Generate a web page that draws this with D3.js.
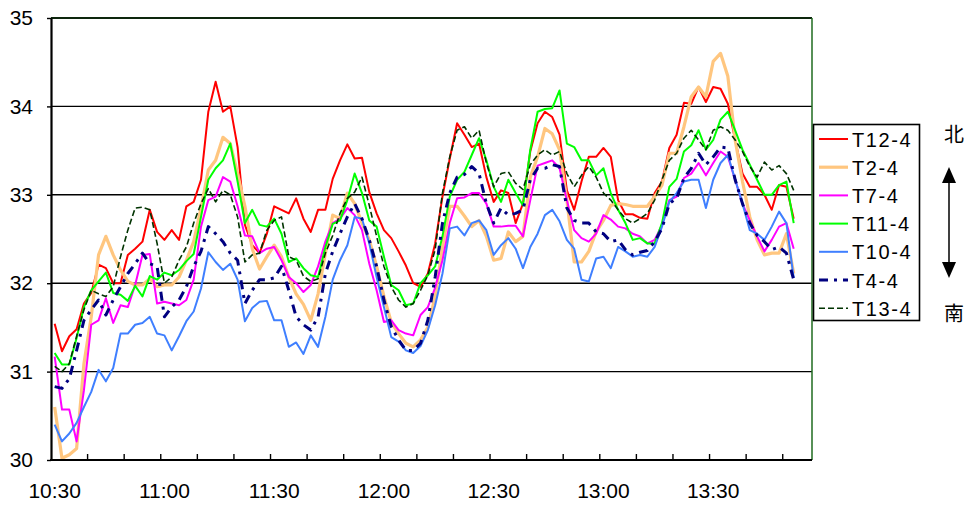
<!DOCTYPE html>
<html>
<head>
<meta charset="utf-8">
<script src="https://cdn.jsdelivr.net/npm/d3@7"></script>
<style>
  body { margin: 0; background: #fff; }
  text { font-family: "Liberation Sans", Arial, sans-serif; fill: #000; }
</style>
</head>
<body>
<div id="chart"></div>
<script>
// Time categories: 10:30 onwards every 2 minutes (104 slots on the axis)
const startMin = 10 * 60 + 30;
const times = d3.range(104).map(i => {
  const m = startMin + i * 2;
  return `${Math.floor(m / 60)}:${String(m % 60).padStart(2, "0")}`;
});
const tickLabels = ["10:30", "11:00", "11:30", "12:00", "12:30", "13:00", "13:30"];
const yTicks = [30, 31, 32, 33, 34, 35];

// Series values
const t12 = [31.54,31.23,31.40,31.48,31.77,31.89,32.21,32.17,32.00,32.00,
  32.32,32.39,32.47,32.83,32.58,32.49,32.60,32.49,32.87,32.92,
  33.17,33.94,34.28,33.94,34.00,33.54,32.66,32.43,32.34,32.56,
  32.87,32.83,32.79,32.96,32.73,32.58,32.83,32.83,33.18,33.39,
  33.57,33.41,33.42,33.03,32.79,32.60,32.51,32.36,32.20,32.00,
  31.96,32.11,32.45,32.98,33.41,33.81,33.68,33.54,33.58,33.20,
  32.92,33.05,33.02,32.68,32.90,33.49,33.81,33.94,33.88,33.68,
  33.05,32.83,33.15,33.43,33.43,33.53,33.43,32.94,32.78,32.78,
  32.74,32.73,33.02,33.15,33.53,33.68,34.04,34.03,34.22,34.05,
  34.22,34.20,34.03,33.62,33.24,33.09,33.09,33.00,32.83,33.11,
  33.09,32.73];

const t2 = [30.60,30.02,30.06,30.13,31.09,31.62,32.32,32.53,32.32,32.15,
  32.02,31.98,31.98,32.05,31.96,31.98,31.98,32.07,32.26,32.47,
  32.85,33.28,33.39,33.65,33.58,33.24,32.87,32.39,32.16,32.30,
  32.43,32.30,32.07,31.88,31.76,31.58,31.88,32.34,32.77,32.73,
  33.02,32.90,32.68,32.49,32.19,31.85,31.56,31.43,31.32,31.28,
  31.36,31.50,31.85,32.41,32.87,32.87,32.76,32.64,32.71,32.53,
  32.26,32.28,32.58,32.47,32.53,33.20,33.43,33.75,33.69,33.51,
  32.94,32.24,32.24,32.36,32.58,32.71,32.88,32.90,32.89,32.87,
  32.87,32.87,32.98,33.11,33.47,33.47,33.77,34.11,34.22,34.11,
  34.51,34.60,34.34,33.62,33.15,32.75,32.49,32.32,32.34,32.34,
  32.56,32.11];

const t7 = [31.17,30.57,30.57,30.21,30.79,31.53,31.58,31.83,31.55,31.75,
  31.73,31.98,32.32,32.33,31.77,31.79,31.77,31.75,31.81,32.04,
  32.64,32.94,32.98,33.20,33.15,32.87,32.54,32.53,32.34,32.39,
  32.41,32.26,32.07,32.00,31.90,31.98,32.19,32.47,32.68,32.73,
  32.85,32.77,32.60,32.22,31.92,31.56,31.58,31.47,31.43,31.41,
  31.64,31.73,31.95,32.26,32.68,32.96,32.97,33.02,33.02,32.90,
  32.64,32.64,32.65,32.65,32.53,32.94,33.33,33.36,33.39,33.30,
  32.94,32.60,32.51,32.47,32.56,32.77,32.72,32.64,32.62,32.56,
  32.53,32.45,32.49,32.66,32.94,32.98,33.19,33.24,33.36,33.22,
  33.36,33.49,33.43,33.17,32.90,32.71,32.53,32.36,32.49,32.64,
  32.68,32.39];

const t11 = [31.21,31.08,31.08,31.38,31.73,31.92,32.02,32.12,31.89,31.87,
  31.80,31.97,31.85,32.08,32.04,32.12,32.09,32.15,32.25,32.33,
  32.75,33.17,33.30,33.39,33.58,33.15,32.68,32.83,32.66,32.64,
  32.73,32.56,32.24,32.28,32.17,32.09,32.07,32.41,32.67,32.71,
  32.94,33.24,33.02,32.71,32.64,32.30,31.98,31.92,31.75,31.77,
  32.00,32.09,32.19,32.53,32.98,33.17,33.26,33.45,33.64,33.39,
  33.09,32.92,33.17,33.02,32.88,33.51,33.94,33.97,33.98,34.18,
  33.58,33.54,33.39,33.39,33.22,33.30,33.02,32.83,32.68,32.49,
  32.51,32.45,32.45,32.68,33.09,33.18,33.49,33.56,33.73,33.51,
  33.62,33.85,33.94,33.73,33.51,33.34,33.17,33.00,33.00,33.11,
  33.15,32.68];

const t10 = [30.40,30.21,30.30,30.42,30.60,30.77,31.02,30.89,31.04,31.43,
  31.43,31.53,31.55,31.62,31.43,31.41,31.24,31.40,31.57,31.68,
  31.94,32.35,32.24,32.15,32.22,32.04,31.57,31.72,31.79,31.80,
  31.58,31.58,31.28,31.33,31.20,31.41,31.28,31.62,32.04,32.26,
  32.43,32.75,32.73,32.45,32.07,31.73,31.39,31.34,31.24,31.21,
  31.29,31.47,31.75,32.11,32.62,32.64,32.54,32.68,32.71,32.60,
  32.32,32.43,32.51,32.39,32.17,32.41,32.56,32.77,32.83,32.70,
  32.49,32.39,32.04,32.02,32.28,32.30,32.17,32.41,32.36,32.30,
  32.32,32.30,32.41,32.64,32.92,33.02,33.15,33.17,33.17,32.85,
  33.17,33.36,33.45,33.17,32.90,32.60,32.56,32.49,32.64,32.81,
  32.68,32.06];

const t4 = [30.83,30.81,30.92,31.24,31.58,31.70,31.81,31.64,31.81,31.96,
  32.11,32.22,32.34,32.22,32.19,31.62,31.73,31.81,31.96,32.19,
  32.36,32.64,32.56,32.47,32.34,32.26,31.77,31.92,32.04,32.04,
  32.06,32.19,31.92,31.62,31.53,31.47,31.62,32.11,32.36,32.56,
  32.75,32.90,32.73,32.49,32.19,31.81,31.51,31.36,31.24,31.24,
  31.32,31.58,32.07,32.68,33.02,33.20,33.23,33.32,33.24,32.90,
  32.68,32.85,32.77,32.79,32.83,33.17,33.30,33.30,33.34,33.32,
  32.85,32.71,32.68,32.68,32.58,32.56,32.47,32.49,32.38,32.32,
  32.35,32.37,32.47,32.62,32.90,32.96,33.19,33.30,33.47,33.34,
  33.43,33.54,33.53,33.17,32.90,32.68,32.54,32.47,32.38,32.41,
  32.34,32.04];

const t13 = [31.06,31.00,31.09,31.40,31.70,31.92,31.88,31.85,31.96,32.30,
  32.60,32.85,32.86,32.83,32.45,32.00,32.07,32.26,32.41,32.68,
  32.90,33.07,32.92,33.05,33.00,32.75,32.24,32.32,32.34,32.60,
  32.71,32.75,32.30,32.26,32.08,32.02,32.05,32.34,32.54,32.79,
  32.96,33.03,33.20,32.88,32.53,32.19,31.96,31.81,31.73,31.77,
  31.92,32.09,32.38,33.02,33.43,33.73,33.77,33.64,33.73,33.36,
  33.09,33.24,33.26,33.13,33.06,33.34,33.45,33.51,33.45,33.49,
  33.24,33.09,33.22,33.32,33.20,33.02,32.94,32.83,32.73,32.68,
  32.73,32.79,32.94,33.17,33.39,33.47,33.64,33.73,33.62,33.51,
  33.73,33.77,33.73,33.62,33.49,33.32,33.20,33.37,33.28,33.33,
  33.24,33.05];

const seriesNames = ["T12-4", "T2-4", "T7-4", "T11-4", "T10-4", "T4-4", "T13-4"];
const seriesValues = [t12, t2, t7, t11, t10, t4, t13];

// Line styles per series
const styles = [
  { color: "#ff0000", width: 2, dash: null },
  { color: "#ffc67f", width: 3.2, dash: null },
  { color: "#ff00ff", width: 2, dash: null },
  { color: "#00ff00", width: 2, dash: null },
  { color: "#3f7fff", width: 2, dash: null },
  { color: "#000080", width: 3, dash: "9,6,3,6" },
  { color: "#003300", width: 1.6, dash: "6,3" }
];

const W = 967, H = 507;
const plot = { left: 51, right: 812, top: 18, bottom: 460 };

const svg = d3.select("#chart")
  .append("svg")
  .attr("width", W)
  .attr("height", H);

const x = d3.scaleBand()
  .domain(times)
  .range([plot.left, plot.right]);

const y = d3.scaleLinear()
  .domain([30, 35])
  .range([plot.bottom, plot.top]);

const bw = x.bandwidth();

// Horizontal gridlines
svg.append("g")
  .selectAll("line")
  .data(yTicks.filter(d => d > 30 && d < 35))
  .join("line")
  .attr("x1", plot.left)
  .attr("x2", plot.right)
  .attr("y1", d => y(d))
  .attr("y2", d => y(d))
  .attr("stroke", "#000")
  .attr("stroke-width", 1.4);

// Series lines
const line = d3.line()
  .x((d, i) => x(times[i]) + bw / 2)
  .y(d => y(d));

seriesValues.forEach((vals, k) => {
  const st = styles[k];
  svg.append("path")
    .datum(vals)
    .attr("fill", "none")
    .attr("stroke", st.color)
    .attr("stroke-width", st.width)
    .attr("stroke-dasharray", st.dash)
    .attr("stroke-linejoin", "round")
    .attr("d", line);
});

// Plot frame: top and right edges
svg.append("line")
  .attr("x1", plot.left).attr("x2", plot.right)
  .attr("y1", plot.top).attr("y2", plot.top)
  .attr("stroke", "#0d260d").attr("stroke-width", 2);

svg.append("line")
  .attr("x1", plot.right).attr("x2", plot.right)
  .attr("y1", plot.top).attr("y2", plot.bottom)
  .attr("stroke", "#1f6b1f").attr("stroke-width", 1.5);

// Y axis
const yAxis = svg.append("g")
  .attr("transform", `translate(${plot.left},0)`)
  .call(d3.axisLeft(y).tickValues(yTicks).tickSize(4).tickSizeOuter(0).tickPadding(14).tickFormat(d3.format("d")));
yAxis.select(".domain").attr("stroke", "#000").attr("stroke-width", 2.2);
yAxis.selectAll(".tick line").attr("stroke-width", 1.4);
yAxis.selectAll("text")
  .style("font-family", "'Liberation Sans', Arial, sans-serif")
  .style("font-size", "21px");

// X axis: line, inner ticks every 10 minutes, labels every 30 minutes
svg.append("line")
  .attr("x1", plot.left - 1).attr("x2", plot.right)
  .attr("y1", plot.bottom).attr("y2", plot.bottom)
  .attr("stroke", "#000").attr("stroke-width", 2.2);

svg.append("g")
  .selectAll("line")
  .data(times.filter((t, i) => i > 0 && i % 5 === 0))
  .join("line")
  .attr("x1", d => x(d))
  .attr("x2", d => x(d))
  .attr("y1", plot.bottom)
  .attr("y2", plot.bottom - 6)
  .attr("stroke", "#000")
  .attr("stroke-width", 1.4);

svg.append("g")
  .selectAll("text")
  .data(tickLabels)
  .join("text")
  .attr("x", d => x(d) + bw / 2)
  .attr("y", 498)
  .attr("text-anchor", "middle")
  .style("font-size", "21px")
  .text(d => d);

// Legend
const legend = svg.append("g");
legend.append("rect")
  .attr("x", 813.5)
  .attr("y", 124.5)
  .attr("width", 106)
  .attr("height", 196)
  .attr("fill", "#fff")
  .attr("stroke", "#000")
  .attr("stroke-width", 1.6);

seriesNames.forEach((name, k) => {
  const st = styles[k];
  const ly = 139 + k * 28.2;
  legend.append("line")
    .attr("x1", 819).attr("x2", 848)
    .attr("y1", ly).attr("y2", ly)
    .attr("stroke", st.color)
    .attr("stroke-width", st.width)
    .attr("stroke-dasharray", st.dash);
  legend.append("text")
    .attr("x", 852)
    .attr("y", ly + 7.5)
    .style("font-size", "20px")
    .style("letter-spacing", "1.6px")
    .text(name);
});

// North / south indicator
svg.append("text")
  .attr("x", 954).attr("y", 142)
  .attr("text-anchor", "middle")
  .style("font-family", "'Noto Sans CJK JP', sans-serif")
  .style("font-size", "20px")
  .text("北");

svg.append("text")
  .attr("x", 954).attr("y", 321)
  .attr("text-anchor", "middle")
  .style("font-family", "'Noto Sans CJK JP', sans-serif")
  .style("font-size", "20px")
  .text("南");

svg.append("line")
  .attr("x1", 949).attr("x2", 949)
  .attr("y1", 180).attr("y2", 265)
  .attr("stroke", "#000").attr("stroke-width", 1.5);

svg.append("path")
  .attr("d", "M949,167 L942,183 L956,183 Z")
  .attr("fill", "#000");

svg.append("path")
  .attr("d", "M949,278 L942,262 L956,262 Z")
  .attr("fill", "#000");
</script>
</body>
</html>
